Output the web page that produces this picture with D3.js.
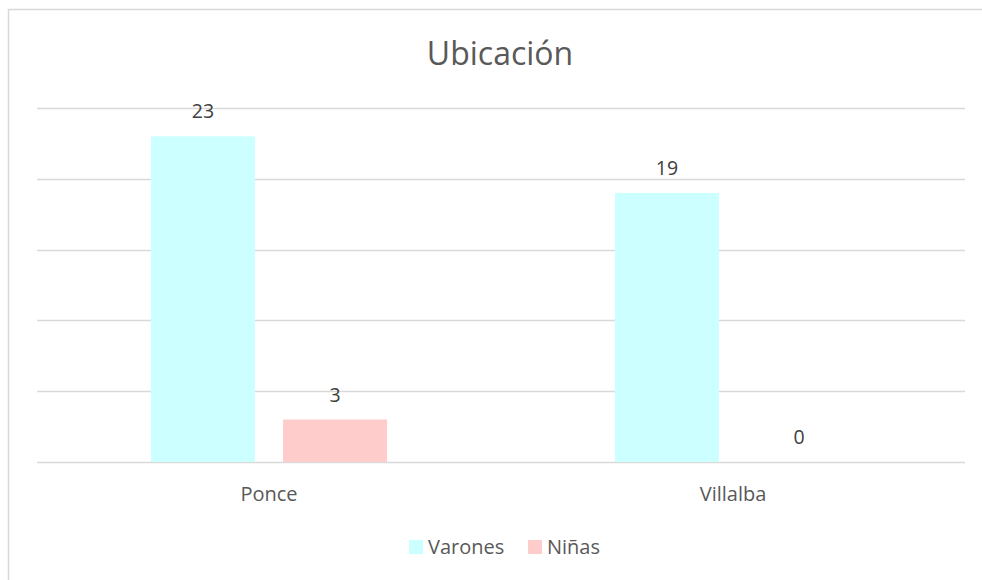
<!DOCTYPE html>
<html lang="es">
<head>
  <meta charset="UTF-8">
  <style>
    body { margin: 0; overflow: hidden; background: #fff; }
    svg { display: block; }
    text { font-family: "Open Sans", Lato, sans-serif; fill: #595959; }
  </style>
  <script src="https://d3js.org/d3.v7.min.js"></script>
</head>
<body>
<svg id="chart"></svg>
<script>
  // data
  const categories = ["Ponce", "Villalba"];
  const seriesNames = ["Varones", "Niñas"];
  const varones = [23, 19];
  const ninas = [3, 0];
  const yTicks = [0, 5, 10, 15, 20, 25];
  const colors = ["#CCFFFF", "#FFCCCC"];

  const width = 982, height = 580;
  const svg = d3.select("#chart").attr("width", width).attr("height", height);

  // outer chart border: only the top and left edges fall inside the picture
  svg.append("path")
    .attr("d", `M8.5,${height}V9.5H${width}`)
    .attr("fill", "none").attr("stroke", "#D9D9D9").attr("stroke-width", 1.5);

  const plot = { left: 37, right: 965, top: 108, bottom: 462 };

  const x = d3.scaleBand().domain(categories).range([plot.left, plot.right]);
  const y = d3.scaleLinear().domain([0, 25]).range([plot.bottom, plot.top]);

  // gridlines
  svg.append("g").selectAll("line").data(yTicks).join("line")
    .attr("x1", plot.left).attr("x2", plot.right)
    .attr("y1", d => Math.round(y(d)) + 0.5).attr("y2", d => Math.round(y(d)) + 0.5)
    .attr("stroke", "#D9D9D9").attr("stroke-width", 1.5);

  const rows = categories.map((c, i) => ({ cat: c, values: [varones[i], ninas[i]] }));
  const barW = 104, offset = 66;

  const groups = svg.append("g").selectAll("g").data(rows).join("g")
    .attr("transform", d => `translate(${x(d.cat) + x.bandwidth() / 2},0)`);

  groups.selectAll("rect").data(d => d.values).join("rect")
    .attr("x", (d, i) => (i === 0 ? -offset : offset) - barW / 2)
    .attr("width", barW)
    .attr("y", d => y(d))
    .attr("height", d => y(0) - y(d))
    .attr("fill", (d, i) => colors[i]);

  groups.selectAll("text.val").data(d => d.values).join("text")
    .attr("class", "val")
    .attr("x", (d, i) => i === 0 ? -offset : offset)
    .attr("y", d => y(d) - 18)
    .attr("text-anchor", "middle")
    .attr("font-size", 19.5)
    .style("fill", "#404040")
    .text(d => d);

  // category labels
  svg.append("g").selectAll("text").data(categories).join("text")
    .attr("x", d => x(d) + x.bandwidth() / 2)
    .attr("y", 501)
    .attr("text-anchor", "middle")
    .attr("font-size", 20)
    .text(d => d);

  // title
  svg.append("text")
    .attr("x", 500).attr("y", 65)
    .attr("text-anchor", "middle")
    .attr("font-size", 32)
    .text("Ubicación");

  // legend
  const legendX = [409, 528];
  const legend = svg.append("g").selectAll("g").data(seriesNames).join("g")
    .attr("transform", (d, i) => `translate(${legendX[i]},540)`);
  legend.append("rect").attr("width", 14).attr("height", 14)
    .attr("fill", (d, i) => colors[i]);
  legend.append("text").attr("x", 19).attr("y", 14)
    .attr("font-size", 20).text(d => d);
</script>
</body>
</html>
